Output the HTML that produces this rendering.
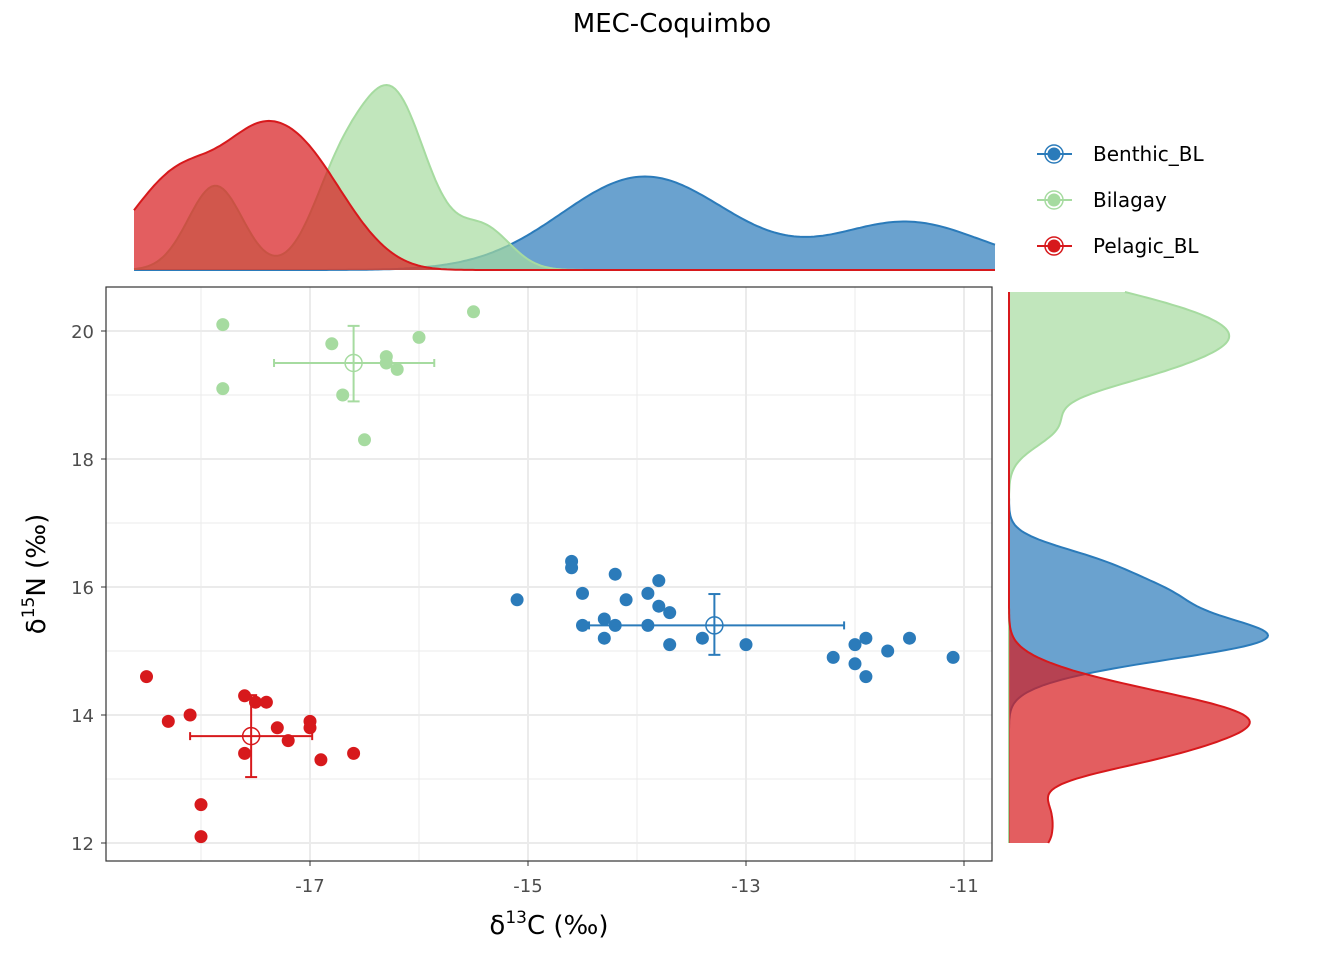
<!DOCTYPE html>
<html><head><meta charset="utf-8"><style>
body{margin:0;background:#fff}
svg{display:block;font-family:"DejaVu Sans","Liberation Sans",sans-serif}
</style></head><body>
<svg id="c" width="1344" height="960"></svg>
<script>
const groups=['Benthic_BL','Bilagay','Pelagic_BL'];
const benthicX=[-15.1,-14.6,-14.6,-14.5,-14.5,-14.3,-14.3,-14.2,-14.2,-14.1,-13.9,-13.9,-13.8,-13.8,-13.7,-13.7,-13.4,-13.0,-12.2,-12.0,-12.0,-11.9,-11.9,-11.7,-11.5,-11.1];
const benthicY=[15.8,16.4,16.3,15.9,15.4,15.5,15.2,16.2,15.4,15.8,15.9,15.4,16.1,15.7,15.6,15.1,15.2,15.1,14.9,15.1,14.8,15.2,14.6,15.0,15.2,14.9];
const bilagayX=[-17.8,-17.8,-16.8,-16.7,-16.3,-16.3,-16.2,-16.0,-16.5,-15.5];
const bilagayY=[20.1,19.1,19.8,19.0,19.6,19.5,19.4,19.9,18.3,20.3];
const pelagicX=[-18.5,-18.3,-18.1,-18.0,-18.0,-17.6,-17.6,-17.5,-17.4,-17.3,-17.2,-17.0,-17.0,-16.9,-16.6];
const pelagicY=[14.6,13.9,14.0,12.6,12.1,14.3,13.4,14.2,14.2,13.8,13.6,13.9,13.8,13.3,13.4];
const meanX=[-13.29,-16.6,-17.54];
const meanY=[15.4,19.5,13.67];
const errX=[[-14.44,-12.1],[-17.33,-15.86],[-18.1,-16.98]];
const errY=[[14.94,15.89],[18.9,20.08],[13.03,14.31]];
const xTicks=[-17,-15,-13,-11];
const yTicks=[12,14,16,18,20];

const lineC=['#2b7bba','#a6dba0','#d7191c'];
const fillC=['#2b7bba','#a6dba0','#d7191c'];
const X=[benthicX,bilagayX,pelagicX], Y=[benthicY,bilagayY,pelagicY];
const sx=v=>310+(v+17)*109, sy=v=>331+(20-v)*64;
const svg=document.getElementById('c');const NS='http://www.w3.org/2000/svg';
function mk(t,a,p){const e=document.createElementNS(NS,t);for(const k in a)e.setAttribute(k,a[k]);(p||svg).appendChild(e);return e;}

const panel=mk('g',{});


for(let v=-18;v<=-11;v++){const maj=xTicks.includes(v);mk('line',{x1:sx(v),x2:sx(v),y1:287,y2:861,stroke:'#ebebeb','stroke-width':maj?2:1},panel);}
for(let v=12;v<=20;v++){const maj=yTicks.includes(v);mk('line',{x1:106,x2:992,y1:sy(v),y2:sy(v),stroke:'#ebebeb','stroke-width':maj?2:1},panel);}
xTicks.forEach(v=>{mk('line',{x1:sx(v),x2:sx(v),y1:861,y2:866,stroke:'#333'});const t=mk('text',{x:sx(v),y:892,'text-anchor':'middle','font-size':18,fill:'#4d4d4d'});t.textContent=v;
});
yTicks.forEach(v=>{mk('line',{x1:101,x2:106,y1:sy(v),y2:sy(v),stroke:'#333'});const t=mk('text',{x:94,y:sy(v)+7,'text-anchor':'end','font-size':18,fill:'#4d4d4d'});t.textContent=v;
});

for(let g=0;g<3;g++){for(let i=0;i<X[g].length;i++){const c=mk('circle',{cx:sx(X[g][i]),cy:sy(Y[g][i]),r:6.5,fill:lineC[g]});
}}
for(let g=0;g<3;g++){const s={stroke:lineC[g],'stroke-width':2,fill:'none'};const mg=mk('g',s);

const cx=sx(meanX[g]),cy=sy(meanY[g]),x1=sx(errX[g][0]),x2=sx(errX[g][1]),y1=sy(errY[g][0]),y2=sy(errY[g][1]);
mk('line',{x1:x1,x2:x2,y1:cy,y2:cy},mg);mk('line',{x1:x1,x2:x1,y1:cy-4,y2:cy+4},mg);mk('line',{x1:x2,x2:x2,y1:cy-4,y2:cy+4},mg);
mk('line',{x1:cx,x2:cx,y1:y1,y2:y2},mg);mk('line',{x1:cx-6,x2:cx+6,y1:y1,y2:y1},mg);mk('line',{x1:cx-6,x2:cx+6,y1:y2,y2:y2},mg);
mk('circle',{cx:cx,cy:cy,r:8.5,'stroke-width':1.5},mg);}
mk('rect',{x:106,y:287,width:886,height:574,fill:'none',stroke:'#333','stroke-width':1.2});

function sd(a){const m=a.reduce((s,v)=>s+v,0)/a.length;return Math.sqrt(a.reduce((s,v)=>s+(v-m)*(v-m),0)/(a.length-1));}
function q(a,p){const s=[...a].sort((x,y)=>x-y);const h=(s.length-1)*p,l=Math.floor(h);return s[l]+(s[Math.min(l+1,s.length-1)]-s[l])*(h-l);}
function bw(a){const i=(q(a,.75)-q(a,.25))/1.34;return 0.9*Math.min(sd(a),i||sd(a))*Math.pow(a.length,-0.2);}
function kde(a,t){const h=bw(a);let s=0;for(const v of a){const z=(t-v)/h;s+=Math.exp(-z*z/2);}return s/(a.length*h*Math.sqrt(2*Math.PI));}
const N=300;
const allX=[].concat(...X), allY=[].concat(...Y);
const tx0=Math.min(...allX),tx1=Math.max(...allX);
const tpx=v=>134+(v-tx0)/(tx1-tx0)*861;
let dens=[],mx=0;
for(let g=0;g<3;g++){const d=[];for(let i=0;i<=N;i++){const t=tx0+(tx1-tx0)*i/N;const v=kde(X[g],t);d.push([t,v]);mx=Math.max(mx,v);}dens.push(d);}
for(let g=0;g<3;g++){let p='M'+tpx(tx0)+',270';dens[g].forEach(([t,v])=>p+=' L'+tpx(t).toFixed(1)+','+(270-v/mx*185).toFixed(1));p+=' L'+tpx(tx1)+',270';
const a=mk('path',{d:p+'Z',fill:fillC[g],'fill-opacity':0.7,stroke:'none'});
let l='';dens[g].forEach(([t,v],i)=>l+=(i?' L':'M')+tpx(t).toFixed(1)+','+(270-v/mx*185).toFixed(1));mk('path',{d:l,fill:'none',stroke:lineC[g],'stroke-width':2});}
const ry0=Math.min(...allY),ry1=Math.max(...allY);
const rpy=v=>843-(v-ry0)/(ry1-ry0)*551;
dens=[];mx=0;
for(let g=0;g<3;g++){const d=[];for(let i=0;i<=N;i++){const t=ry0+(ry1-ry0)*i/N;const v=kde(Y[g],t);d.push([t,v]);mx=Math.max(mx,v);}dens.push(d);}
for(let g=0;g<3;g++){let p='M1009,'+rpy(ry0);dens[g].forEach(([t,v])=>p+=' L'+(1009+v/mx*259).toFixed(1)+','+rpy(t).toFixed(1));p+=' L1009,'+rpy(ry1);
const a=mk('path',{d:p+'Z',fill:fillC[g],'fill-opacity':0.7,stroke:'none'});
let l='';dens[g].forEach(([t,v],i)=>l+=(i?' L':'M')+(1009+v/mx*259).toFixed(1)+','+rpy(t).toFixed(1));mk('path',{d:l,fill:'none',stroke:lineC[g],'stroke-width':2});}

for(let g=0;g<3;g++){const y=154+46*g;const lg=mk('g',{});
mk('line',{x1:1037,x2:1072,y1:y,y2:y,stroke:lineC[g],'stroke-width':2},lg);mk('circle',{cx:1054,cy:y,r:6.5,fill:lineC[g]},lg);mk('circle',{cx:1054,cy:y,r:9,fill:'none',stroke:lineC[g],'stroke-width':1.5},lg);
const t=mk('text',{x:1093,y:y+7,'font-size':20,fill:'#000'},lg);t.textContent=groups[g];}

let t=mk('text',{x:672,y:32,'text-anchor':'middle','font-size':26});t.textContent='MEC-Coquimbo';
t=mk('text',{x:549,y:934,'text-anchor':'middle','font-size':26});t.innerHTML='δ<tspan font-size="17" dy="-11">13</tspan><tspan dy="11">C (‰)</tspan>';
t=mk('text',{x:0,y:0,'text-anchor':'middle','font-size':26,transform:'translate(45,574) rotate(-90)'});t.innerHTML='δ<tspan font-size="17" dy="-11">15</tspan><tspan dy="11">N (‰)</tspan>';
</script>
</body></html>
